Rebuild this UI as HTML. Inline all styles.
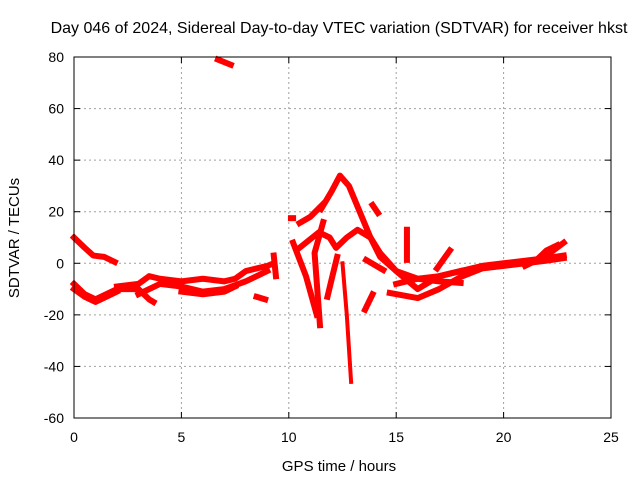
<!DOCTYPE html>
<html><head><meta charset="utf-8"><style>
body{margin:0;background:#fff}
svg{font-family:"Liberation Sans",sans-serif;font-size:14px}
</style></head><body>
<svg width="640" height="480" xmlns="http://www.w3.org/2000/svg">
<rect width="640" height="480" fill="#fff"/>
<text x="339" y="33" text-anchor="middle" style="font-size:16px">Day 046 of 2024, Sidereal Day-to-day VTEC variation (SDTVAR) for receiver hkst</text>
<text x="339" y="471" text-anchor="middle" style="font-size:15px">GPS time / hours</text>
<text transform="translate(19,238) rotate(-90)" text-anchor="middle" style="font-size:15px">SDTVAR / TECUs</text>
<g id="grid"></g><g id="marks"></g><g id="axes"></g>
<script>
const xTicks=[0,5,10,15,20,25];
const yTicks=[-60,-40,-20,0,20,40,60,80];
const s1=[[0,10],[0.5,6],[0.9,3],[1.4,2.5],[1.9,0.5]];
const s2=[[0,-8],[0.5,-12],[1,-14],[1.5,-12],[2,-10],[3,-10],[3.5,-14],[3.7,-15]];
const s3=[[0,-10],[0.5,-13],[1,-15],[1.5,-13],[2,-11]];
const s4=[[2,-9],[3,-8],[3.5,-5],[4,-6],[5,-7],[6,-6],[7,-7],[7.5,-6],[8,-3],[8.5,-2],[9,-1],[9.3,0]];
const s5=[[3,-12],[4,-8],[5,-9],[6,-11],[7,-10],[8,-7],[9,-3]];
const s6=[[5,-11],[6,-12],[7,-11],[7.5,-9]];
const s7=[[8.5,-13],[8.9,-14]];
const s8=[[6.7,79],[7.3,77]];
const s9=[[10.5,15.6],[11,18],[11.6,23]];
const s10=[[11.5,21],[12,28],[12.38,34],[12.8,30],[13.3,20],[13.8,10],[14.25,2.5],[15,-3],[16,-6],[17,-7],[18,-7.6]];
const s11=[[11.6,16],[11.2,4],[11.45,-24]];
const s12=[[10.2,8],[10.8,-5],[11.3,-20]];
const s13=[[10.5,6],[11.4,12],[11.9,10],[12.2,6],[12.7,10],[13.2,13],[13.8,10],[14.25,4],[15,-3],[16,-10],[17,-5],[18,-3]];
const s14=[[12.25,2.5],[12,-6],[11.8,-13]];
const s15=[[12.5,0],[12.7,-20],[12.9,-46]];
const s16=[[13.9,22.6],[14.15,19.5]];
const s17=[[15.5,13],[15.5,1.3]];
const s18=[[13.6,1.3],[14.4,-2.6]];
const s19=[[14.7,-11.5],[16,-13.5],[17,-10],[18,-5.3],[19,-2],[20,-1],[21,0],[22,1],[22.8,2]];
const s20=[[13.55,-18],[13.9,-12]];
const s21=[[16.9,-2],[17.5,5]];
const s22=[[15,-8],[16,-6],[17,-5],[18,-3],[19,-1],[20,0],[21,1],[22,2],[22.8,3]];
const s23=[[21,-1],[22,3],[22.8,8]];
const s24=[[20.5,0],[21.5,1],[22,5],[22.5,7]];
const s25=[[10.1,17.5],[10.2,17.5]];
const s26=[[9.3,3],[9.4,-5]];
const series=[s1,s2,s3,s4,s5,s6,s7,s8,s9,s10,s11,s12,s13,s14,s16,s17,s18,s19,s20,s21,s22,s23,s24,s25,s26];
const thin=[s15];
const X=h=>74+h*(611-74)/25, Y=v=>57+(80-v)*(418-57)/140;
const NS="http://www.w3.org/2000/svg";
const grid=document.getElementById('grid'),axes=document.getElementById('axes'),marks=document.getElementById('marks');
function mk(tag,at,par){const e=document.createElementNS(NS,tag);for(const k in at)e.setAttribute(k,at[k]);par.appendChild(e);return e;}
xTicks.forEach(t=>{
 if(t>0&&t<25){const g=mk('line',{x1:X(t),x2:X(t),y1:57,y2:418,stroke:'#a0a0a0','stroke-dasharray':'2,3'},grid);
 
 }
 const l=mk('text',{x:X(t),y:442,'text-anchor':'middle'},axes);l.textContent=t;
 
 
 mk('line',{x1:X(t),x2:X(t),y1:418,y2:412,stroke:'#000'},axes);
 mk('line',{x1:X(t),x2:X(t),y1:57,y2:63,stroke:'#000'},axes);
});
yTicks.forEach(t=>{
 if(t>-60&&t<80){const g=mk('line',{x1:74,x2:611,y1:Y(t),y2:Y(t),stroke:'#a0a0a0','stroke-dasharray':'2,3'},grid);
 
 }
 const l=mk('text',{x:64,y:Y(t)+5,'text-anchor':'end'},axes);l.textContent=t;
 
 
 mk('line',{x1:74,x2:80,y1:Y(t),y2:Y(t),stroke:'#000'},axes);
 mk('line',{x1:611,x2:605,y1:Y(t),y2:Y(t),stroke:'#000'},axes);
});
const fr=mk('rect',{x:74,y:57,width:537,height:361,fill:'none',stroke:'#000'},axes);


function draw(s,w){
 const p=mk('polyline',{points:s.map(d=>X(d[0])+','+Y(d[1])).join(' '),fill:'none',stroke:'#f00','stroke-width':w,'stroke-linejoin':'round','stroke-linecap':'square'},marks);
 
 
}
series.forEach(s=>draw(s,6));
thin.forEach(s=>draw(s,4));
</script>
</svg>
</body></html>
